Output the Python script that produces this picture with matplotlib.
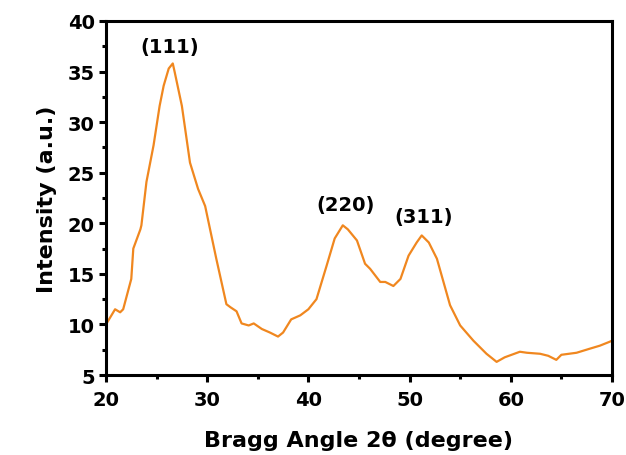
import matplotlib.pyplot as plt
from matplotlib.ticker import MultipleLocator

# XRD pattern, values
two_theta = [20.0, 20.9, 21.4, 21.7, 22.5, 22.7, 23.4, 23.5, 24.0, 24.7,
             25.3, 25.7, 26.2, 26.6, 26.8, 27.5, 28.3, 29.1, 29.8, 30.9,
             31.9, 32.3, 32.9, 33.4, 34.1, 34.6, 35.4, 36.2, 37.0, 37.5,
             38.3, 39.2, 40.0, 40.8, 41.8, 42.6, 43.4, 43.9, 44.8, 45.6,
             46.1, 47.1, 47.6, 48.4, 49.1, 49.9, 50.7, 51.2, 51.9, 52.7,
             54.0, 55.0, 56.3, 57.6, 58.6, 59.4, 60.9, 61.6, 62.9, 63.7,
             64.5, 65.0, 66.5, 67.8, 68.8, 69.8, 70.0]
intensity = [10.0, 11.5, 11.2, 11.5, 14.5, 17.5, 19.4, 19.8, 24.1, 27.7,
             31.6, 33.6, 35.3, 35.8, 34.9, 31.6, 26.0, 23.4, 21.7, 16.5,
             12.0, 11.7, 11.3, 10.1, 9.9, 10.1, 9.55, 9.2, 8.8, 9.2,
             10.5, 10.9, 11.5, 12.5, 15.8, 18.5, 19.8, 19.4, 18.3, 16.0,
             15.5, 14.2, 14.2, 13.8, 14.5, 16.8, 18.1, 18.8, 18.1, 16.5,
             11.9, 9.9, 8.4, 7.1, 6.3, 6.75, 7.3, 7.2, 7.1, 6.9,
             6.5, 7.0, 7.2, 7.6, 7.9, 8.3, 8.4]

peak_labels = ['(111)', '(220)', '(311)']
peak_x = [26.3, 43.7, 51.4]
peak_y = [37.5, 21.9, 20.7]

plt.rcParams['font.family'] = ['DejaVu Sans']
plt.rcParams['font.weight'] = 'bold'

fig = plt.figure(figsize=(6.26, 4.56), dpi=100)
ax = fig.add_axes([0.1693, 0.1754, 0.8083, 0.7764])

ax.plot(two_theta, intensity, color='#F0871F', lw=1.6)

for lab, x, y in zip(peak_labels, peak_x, peak_y):
    ax.text(x, y, lab, ha='center', va='center', fontsize=14, fontweight='bold')

ax.set_xlim(20, 70)
ax.set_ylim(5, 40)
ax.xaxis.set_major_locator(MultipleLocator(10))
ax.xaxis.set_minor_locator(MultipleLocator(5))
ax.yaxis.set_major_locator(MultipleLocator(5))
ax.yaxis.set_minor_locator(MultipleLocator(2.5))

for s in ax.spines.values():
    s.set_linewidth(2.2)
ax.tick_params(which='major', direction='out', length=5, width=2.2,
               labelsize=14)
ax.tick_params(axis='x', which='major', pad=6)
ax.tick_params(axis='y', which='major', pad=3)
ax.tick_params(which='minor', direction='out', length=3, width=2.2)
ax.tick_params(top=False, right=False, which='both')
for t in ax.get_xticklabels() + ax.get_yticklabels():
    t.set_fontweight('bold')

ax.set_xlabel('Bragg Angle 2\u03b8 (degree)', fontsize=16, fontweight='bold', labelpad=15)
ax.set_ylabel('Intensity (a.u.)', fontsize=16, fontweight='bold', labelpad=8)

plt.savefig('out.png', dpi=100)
plt.close()
